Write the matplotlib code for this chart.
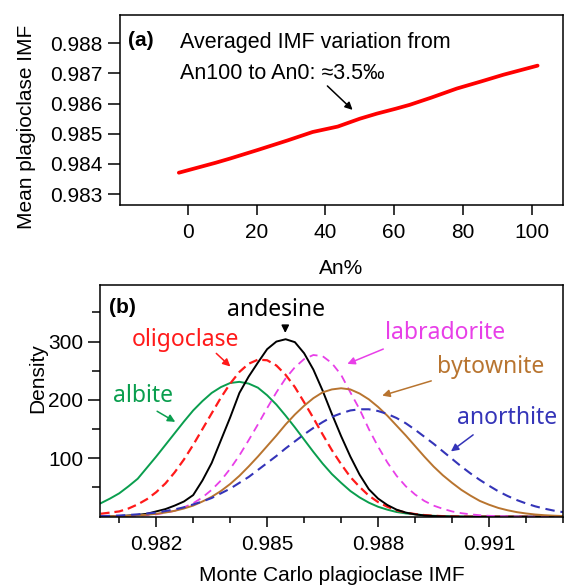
import numpy as np
import matplotlib
matplotlib.use("Agg")
import matplotlib.pyplot as plt
from matplotlib.ticker import MultipleLocator

plt.rcParams['font.family'] = ['Liberation Sans', 'DejaVu Sans']

# (a) mean IMF along the plagioclase series
an_pct = [-2.6, 8.1, 12.3, 20.5, 29.0, 36.3, 43.6, 50.0, 55.0, 60.4,
          64.5, 70.8, 78.2, 85.4, 91.8, 101.7]
mean_imf = [0.98371, 0.98404, 0.98418, 0.98447, 0.98478, 0.98506, 0.98524,
            0.98550, 0.98567, 0.98583, 0.98596, 0.98620, 0.98650, 0.98674,
            0.98696, 0.98726]

# (b) Monte Carlo IMF densities, sampled every 0.00025 from 0.9805 to 0.9930
imf_grid = np.round(np.arange(0.9805, 0.99301, 0.00025), 5)
albite = [23, 31, 40, 52, 65, 84, 103, 123, 143, 163,
          182, 198, 212, 222, 229, 231, 228, 221, 208, 192,
          173, 153, 132, 111, 91, 73, 58, 44, 33, 24,
          17, 12, 8, 5.6, 4, 2.4, 1.5, 0.9, 0.5, 0.3,
          0, 0, 0, 0, 0, 0, 0, 0, 0, 0, 0]
oligoclase = [5, 7, 9, 14, 21, 30, 42, 57, 76, 98,
              123, 150, 177, 204, 228, 248, 262, 269, 268, 259,
              243, 222, 196, 169, 141, 114, 90, 68, 51, 36,
              25, 17, 11, 7, 4.5, 2.7, 1.6, 0.9, 0.5, 0.3,
              0, 0, 0, 0, 0, 0, 0, 0, 0, 0, 0]
andesine = [0, 0.5, 1, 2, 3, 5, 9, 13, 19, 26,
            37, 62, 92, 131, 170, 212, 240, 264, 287, 300,
            304, 299, 280, 252, 216, 176, 138, 103, 72, 47,
            31, 20, 12, 7, 4, 2, 1, 0.5, 0.2, 0,
            0, 0, 0, 0, 0, 0, 0, 0, 0, 0, 0]
labradorite = [0, 0.3, 0.5, 0.9, 1.5, 2.6, 4, 6.7, 10, 16,
               23, 33, 46, 62, 82, 105, 131, 158, 186, 213,
               237, 256, 270, 277, 275, 263, 243, 213, 184, 150,
               120, 93, 70, 52, 38, 27, 19, 13.5, 9, 6,
               4, 2.5, 1.5, 1, 0.5, 0.3, 0, 0, 0, 0, 0]
bytownite = [0.3, 0.6, 0.9, 1.4, 2.2, 3.3, 4.9, 7.1, 10, 14,
             19, 26, 34, 44, 56, 70, 86, 103, 121, 139,
             158, 175, 190, 203, 213, 218, 220, 218, 211, 201,
             188, 173, 156, 139, 121, 103, 86, 71, 58, 46,
             36, 27, 20.5, 15, 11, 7.8, 5.5, 3.7, 2.5, 1.7, 1.1]
anorthite = [1, 1.4, 2, 2.9, 4, 5.4, 7, 9.6, 12.5, 16,
             21, 26, 32, 40, 48, 58, 68, 80, 92, 104,
             117, 129, 141, 152, 162, 171, 177, 182, 184, 184,
             181, 176, 169, 160, 149, 137, 125, 112, 99, 86,
             74, 63, 53, 43.5, 35.5, 28.5, 22.7, 17.7, 13.7, 10.4, 7.8]

GREEN = '#0A9E4E'
RED = '#FF1A1A'
MAGENTA = '#E83FE8'
BROWN = '#B8742F'
BLUE = '#3434B8'

fig = plt.figure(figsize=(5.64, 5.85), dpi=100)
ax_a = fig.add_axes([0.2128, 0.6496, 0.7855, 0.3248])
ax_b = fig.add_axes([0.1773, 0.1168, 0.8209, 0.3961])

for ax in (ax_a, ax_b):
    for sp in ax.spines.values():
        sp.set_linewidth(1.1)
    ax.tick_params(labelsize=15, width=1.1)

# ---- panel (a)
ax_a.plot(an_pct, mean_imf, color='red', lw=2.7, solid_capstyle='round')
ax_a.set_xlim(-19.7, 109.1)
ax_a.set_ylim(0.98264, 0.98894)
ax_a.set_xticks([0, 20, 40, 60, 80, 100])
ax_a.set_yticks([0.983, 0.984, 0.985, 0.986, 0.987, 0.988])
ax_a.yaxis.set_major_formatter(plt.FormatStrFormatter('%.3f'))
ax_a.tick_params(axis='x', length=7.5, pad=5.5)
ax_a.tick_params(axis='y', length=8.6, pad=4)
ax_a.set_xlabel('An%', fontsize=15, labelpad=12)
ax_a.set_ylabel('Mean plagioclase IMF', fontsize=15)
ax_a.yaxis.set_label_coords(-0.19, 0.41)

ax_a.text(-17.4, 0.98809, '(a)', fontsize=15, fontweight='bold',
          ha='left', va='center')
ax_a.text(-2.3, 0.98804, 'Averaged IMF variation from', fontsize=15.5,
          ha='left', va='center')
ax_a.text(-2.3, 0.98700, 'An100 to An0: \u22483.5\u2030', fontsize=15.5,
          ha='left', va='center')
ax_a.annotate('', xy=(48.5, 0.98573), xytext=(40, 0.98665),
              arrowprops=dict(arrowstyle='-|>', color='black', lw=1.1,
                              mutation_scale=11))

# ---- panel (b)
curves = [
    (albite, GREEN, '-', 1.4),
    (oligoclase, RED, (0, (4, 2.2)), 1.6),
    (andesine, 'black', '-', 1.4),
    (labradorite, MAGENTA, (0, (4.5, 3)), 1.3),
    (bytownite, BROWN, '-', 1.4),
    (anorthite, BLUE, (0, (4.5, 2.8)), 1.5),
]
for dens, col, ls, lw in curves:
    ax_b.plot(imf_grid, dens, color=col, ls=ls, lw=lw)

ax_b.set_xlim(0.98048, 0.99300)
ax_b.set_ylim(0, 397)
ax_b.set_xticks([0.982, 0.985, 0.988, 0.991])
ax_b.xaxis.set_minor_locator(MultipleLocator(0.001))
ax_b.xaxis.set_major_formatter(plt.FormatStrFormatter('%.3f'))
ax_b.set_yticks([100, 200, 300])
ax_b.set_yticks([50, 150, 250, 350], minor=True)
ax_b.tick_params(axis='x', which='major', length=7.5, pad=5.5)
ax_b.tick_params(axis='x', which='minor', length=4.5, width=1.1)
ax_b.tick_params(axis='y', which='major', length=8.6, pad=3.5)
ax_b.tick_params(axis='y', which='minor', length=5.8, width=1.1)
ax_b.set_xlabel('Monte Carlo plagioclase IMF', fontsize=15, labelpad=9)
ax_b.set_ylabel('Density', fontsize=15)
ax_b.yaxis.set_label_coords(-0.115, 0.60)

ax_b.text(0.98073, 358, '(b)', fontsize=15, fontweight='bold',
          ha='left', va='center')

lab_font = ['Noto Sans', 'DejaVu Sans']
labels = [
    ('andesine', 'black', (0.98524, 354), (0.98549, 328), (0.98549, 310)),
    ('oligoclase', RED, (0.98278, 302), (0.98357, 283), (0.98406, 254)),
    ('albite', GREEN, (0.98165, 206), (0.98196, 183), (0.98258, 160)),
    ('labradorite', MAGENTA, (0.98980, 314), (0.98821, 289), (0.98710, 260)),
    ('bytownite', BROWN, (0.99105, 256), (0.98951, 234), (0.98804, 206)),
    ('anorthite', BLUE, (0.99150, 169), (0.99063, 143), (0.98991, 109)),
]
for name, col, pos, tail, tip in labels:
    ax_b.text(pos[0], pos[1], name, color=col, fontsize=16.5, family=lab_font,
              ha='center', va='center')
    ax_b.annotate('', xy=tip, xytext=tail,
                  arrowprops=dict(arrowstyle='-|>', color=col, lw=1.1,
                                  mutation_scale=11))

fig.savefig('out.png', dpi=100)
